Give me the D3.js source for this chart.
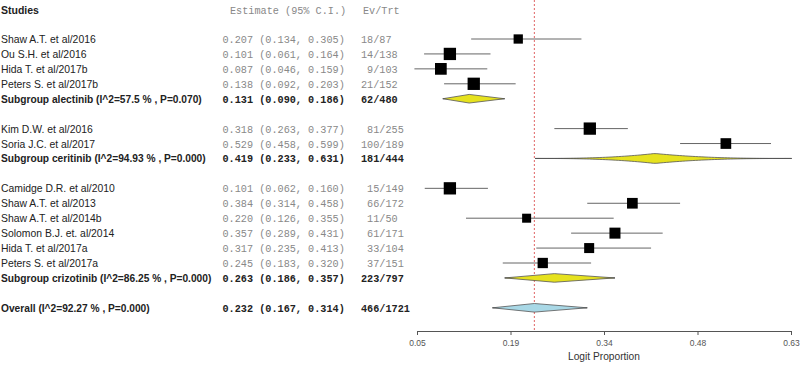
<!DOCTYPE html>
<html><head><meta charset="utf-8">
<script src="https://cdn.jsdelivr.net/npm/d3@7"></script>
<style>
html,body{margin:0;padding:0;background:#fff;}
svg{display:block;}
</style></head>
<body>
<svg id="chart" width="800" height="367"></svg>
<script>
// ---------- data ----------
const groupNames = ["alectinib", "ceritinib", "crizotinib"];
const studies = [
  "Shaw A.T. et al/2016", "Ou S.H. et al/2016", "Hida T. et al/2017b", "Peters S. et al/2017b",
  "Kim D.W. et al/2016", "Soria J.C. et al/2017",
  "Camidge D.R. et al/2010", "Shaw A.T. et al/2013", "Shaw A.T. et al/2014b", "Solomon B.J. et. al/2014", "Hida T. et al/2017a", "Peters S. et al/2017a"
];
const studyGroup = [0,0,0,0, 1,1, 2,2,2,2,2,2];
const estimates = [0.207, 0.101, 0.087, 0.138, 0.318, 0.529, 0.101, 0.384, 0.220, 0.357, 0.317, 0.245];
const lower     = [0.134, 0.061, 0.046, 0.092, 0.263, 0.458, 0.062, 0.314, 0.126, 0.289, 0.235, 0.183];
const upper     = [0.305, 0.164, 0.159, 0.203, 0.377, 0.599, 0.160, 0.458, 0.355, 0.431, 0.413, 0.320];
const events    = [18, 14, 9, 21, 81, 100, 15, 66, 11, 61, 33, 37];
const totals    = [87, 138, 103, 152, 255, 189, 149, 172, 50, 171, 104, 151];
const weights   = [86, 151, 137, 151, 151, 114, 151, 114, 81, 121, 100, 106];

const subLabels = [
  "Subgroup alectinib (I^2=57.5 % , P=0.070)",
  "Subgroup ceritinib (I^2=94.93 % , P=0.000)",
  "Subgroup crizotinib (I^2=86.25 % , P=0.000)"
];
const subEst    = [0.131, 0.419, 0.263];
const subLower  = [0.090, 0.233, 0.186];
const subUpper  = [0.186, 0.631, 0.357];
const subEvents = [62, 181, 223];
const subTotals = [480, 444, 797];

const overallLabel = "Overall (I^2=92.27 % , P=0.000)";
const overallEst = 0.232, overallLower = 0.167, overallUpper = 0.314;
const overallEvents = 466, overallTotal = 1721;

const tickValues = [0.05, 0.195, 0.34, 0.485, 0.63];
const tickLabels = ["0.05", "0.19", "0.34", "0.48", "0.63"];
const axisTitle = "Logit Proportion";
const headers = ["Studies", "Estimate (95% C.I.)", "Ev/Trt"];

// ---------- build rows ----------
const rows = [];
let idx = 0;
groupNames.forEach((g, gi) => {
  const members = studies.map((s, i) => i).filter(i => studyGroup[i] === gi);
  const w = String(subEvents[gi]).length;
  members.forEach(i => {
    rows.push({type: "study", row: idx++, label: studies[i], est: estimates[i], lo: lower[i], hi: upper[i],
      ev: String(events[i]).padStart(w, "\u00a0") + "/" + totals[i], w: weights[i]});
  });
  rows.push({type: "sub", gi: gi, row: idx++, label: subLabels[gi], est: subEst[gi], lo: subLower[gi], hi: subUpper[gi],
    ev: String(subEvents[gi]) + "/" + subTotals[gi]});
  idx++; // blank row
});
rows.push({type: "overall", row: idx, label: overallLabel, est: overallEst, lo: overallLower, hi: overallUpper,
  ev: overallEvents + "/" + overallTotal});

// ---------- scales ----------
const svg = d3.select("#chart");
const x = d3.scaleLinear().domain([0.05, 0.63]).range([417, 791]);
const y = d3.scaleLinear().domain([0, 18]).range([39, 307.8]);
const sq = d3.scaleSqrt().domain([0, 151]).range([0, 12.3]);
const fmt = d3.format(".3f");

const sans = "'Liberation Sans', Arial, sans-serif";
const mono = "'Liberation Mono', 'Courier New', monospace";

// header
svg.append("text").attr("x", 1).attr("y", 14).text(headers[0])
  .attr("font-family", sans).attr("font-size", 10.5).attr("font-weight", "bold").attr("fill", "#222");
svg.append("text").attr("x", 230).attr("y", 14).text(headers[1])
  .attr("font-family", mono).attr("font-size", 10.2).attr("fill", "#888");
svg.append("text").attr("x", 363).attr("y", 14).text(headers[2])
  .attr("font-family", mono).attr("font-size", 10.2).attr("fill", "#888");

// reference line
svg.append("line").attr("x1", x(overallEst)).attr("x2", x(overallEst)).attr("y1", 0).attr("y2", 330)
  .attr("stroke", "#e06565").attr("stroke-width", 1).attr("stroke-dasharray", "2,2");

// text columns
const g = svg.append("g");
rows.forEach(r => {
  const bold = r.type !== "study";
  const yy = y(r.row) + 4;
  g.append("text").attr("x", 1).attr("y", yy).text(r.label)
    .attr("font-family", sans).attr("font-size", bold ? 10.2 : 10.4).attr("font-weight", bold ? "bold" : "normal")
    .attr("fill", "#222");
  g.append("text").attr("x", 222.5).attr("y", yy)
    .text(fmt(r.est) + " (" + fmt(r.lo) + ", " + fmt(r.hi) + ")")
    .attr("font-family", mono).attr("font-size", 10.2).attr("font-weight", bold ? "bold" : "normal")
    .attr("fill", bold ? "#222" : "#888").style("white-space", "pre");
  g.append("text").attr("x", 361).attr("y", yy).text(r.ev)
    .attr("font-family", mono).attr("font-size", 10.2).attr("font-weight", bold ? "bold" : "normal")
    .attr("fill", bold ? "#222" : "#888");
});

// study CIs and squares
rows.filter(r => r.type === "study").forEach(r => {
  const yy = y(r.row);
  g.append("line").attr("x1", x(r.lo)).attr("x2", x(r.hi)).attr("y1", yy).attr("y2", yy)
    .attr("stroke", "#666").attr("stroke-width", 1);
  const s = sq(r.w);
  g.append("rect").attr("x", x(r.est) - s / 2).attr("y", yy - s / 2).attr("width", s).attr("height", s)
    .attr("fill", "#000");
});

// subgroup / overall diamonds
rows.filter(r => r.type !== "study").forEach(r => {
  const yy = y(r.row);
  const fill = r.type === "overall" ? "#a9d8e6" : "#e6e21e";
  g.append("line").attr("x1", x(r.lo)).attr("x2", x(r.hi)).attr("y1", yy).attr("y2", yy)
    .attr("stroke", "#666").attr("stroke-width", 1);
  let pts;
  if (r.type === "sub" && r.gi === 1) {
    // lens-shaped summary (as drawn in the reference)
    const H = 5, n = 80;
    pts = [];
    const xs = d3.range(n + 1).map(k => r.lo + (r.hi - r.lo) * k / n);
    const hh = v => v <= r.est ? H * Math.pow((v - r.lo) / (r.est - r.lo), 2.7)
                               : H * Math.pow((r.hi - v) / (r.hi - r.est), 2.7);
    xs.forEach(v => pts.push([x(v), yy - hh(v)]));
    xs.slice().reverse().forEach(v => pts.push([x(v), yy + hh(v)]));
  } else {
    const H = 4.3;
    pts = [[x(r.lo), yy], [x(r.est), yy - H], [x(r.hi), yy], [x(r.est), yy + H]];
  }
  g.append("polygon").attr("points", pts.map(p => p.join(",")).join(" "))
    .attr("fill", fill).attr("stroke", "#555").attr("stroke-width", 0.8);
});

// axis
const axis = d3.axisBottom(x).tickValues(tickValues).tickFormat((d, i) => tickLabels[i])
  .tickSize(4).tickSizeOuter(0).tickPadding(4.5);
const ax = svg.append("g").attr("transform", "translate(0,331)").call(axis);
ax.select(".domain").attr("stroke", "#555");
ax.selectAll(".tick line").attr("stroke", "#555");
ax.selectAll(".tick text").attr("font-family", sans).attr("font-size", 8.5).attr("fill", "#555");
svg.append("text").attr("x", (x.range()[0] + x.range()[1]) / 2).attr("y", 359.5).attr("text-anchor", "middle")
  .text(axisTitle).attr("font-family", sans).attr("font-size", 10.2).attr("fill", "#333");
</script>
</body></html>
